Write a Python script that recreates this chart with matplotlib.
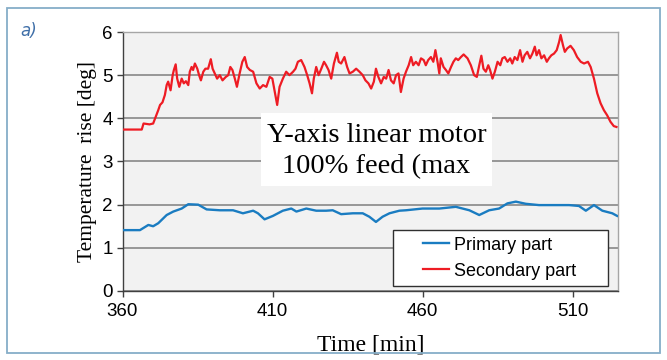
import matplotlib
matplotlib.use("Agg")
import matplotlib.pyplot as plt
from matplotlib.patches import Rectangle

# ---- data ----
secondary_t = [360, 366.4, 367.0, 369.0, 370.2, 370.8, 371.9, 372.5, 373.3, 374.1,
               374.7, 375.2, 376.0, 376.7, 377.1, 377.7, 378.2, 378.9, 379.7, 380.4,
               381.1, 381.9, 382.4, 383.0, 383.5, 384.1, 384.9, 385.5, 386.1, 386.9,
               387.6, 388.5, 389.4, 390.0, 390.7, 391.5, 392.4, 393.3, 394.4, 395.2,
               395.9, 396.6, 397.4, 398.1, 399.0, 399.9, 400.7, 401.5, 402.4, 403.5,
               404.6, 405.7, 406.8, 407.9, 409.0, 409.9, 410.7, 411.5, 412.3, 413.4,
               414.5, 415.6, 416.8, 417.6, 418.4, 419.5, 420.6, 421.5, 422.3, 423.1,
               423.7, 424.5, 425.3, 426.2, 427.1, 427.8, 428.6, 429.5, 430.4, 431.4,
               432.0, 432.8, 433.9, 434.8, 435.6, 436.7, 437.8, 438.9, 440.0, 440.9,
               441.9, 442.8, 443.7, 444.4, 445.2, 446.1, 447.0, 447.8, 448.6, 449.4,
               450.3, 451.1, 451.9, 452.7, 453.6, 454.4, 455.3, 456.1, 456.8, 457.7,
               458.6, 459.4, 460.3, 461.0, 461.8, 462.7, 463.5, 464.2, 464.9, 465.5,
               466.0, 466.9, 467.7, 468.5, 469.4, 470.2, 471.0, 471.8, 472.7, 473.6,
               474.9, 476.0, 477.1, 478.0, 478.8, 479.5, 480.2, 481.0, 481.8, 482.4,
               483.2, 484.0, 484.9, 485.8, 486.5, 487.3, 488.2, 489.1, 489.8, 490.6,
               491.5, 492.4, 493.2, 493.9, 494.8, 495.7, 496.5, 497.3, 497.9, 498.7,
               499.5, 500.4, 501.3, 502.0, 502.8, 503.7, 504.6, 505.4, 505.9, 506.7,
               507.3, 508.1, 509.2, 510.3, 511.4, 512.6, 513.7, 515.0, 515.9, 517.0,
               518.1, 519.2, 520.3, 521.4, 522.5, 523.6, 524.5]
secondary_v = [3.74, 3.74, 3.88, 3.86, 3.88, 3.99, 4.19, 4.31, 4.37, 4.54,
               4.77, 4.85, 4.65, 5.00, 5.12, 5.25, 4.92, 4.73, 4.92, 4.81,
               4.86, 4.77, 5.08, 5.19, 5.12, 5.27, 5.15, 5.00, 4.88, 5.08,
               5.15, 5.15, 5.37, 5.15, 5.04, 4.92, 5.00, 4.88, 4.96, 5.00,
               5.19, 5.12, 4.92, 4.73, 5.04, 5.31, 5.42, 5.19, 5.12, 5.08,
               4.81, 4.69, 4.77, 4.73, 4.96, 4.92, 4.61, 4.31, 4.73, 4.92,
               5.08, 5.00, 5.08, 5.15, 5.31, 5.35, 5.19, 5.00, 4.81, 4.58,
               4.92, 5.19, 5.00, 5.15, 5.31, 5.23, 5.12, 4.92, 5.27, 5.52,
               5.31, 5.27, 5.42, 5.19, 5.04, 5.08, 5.15, 5.08, 5.00, 4.88,
               4.81, 4.69, 4.85, 5.15, 4.96, 4.81, 4.96, 4.92, 5.12, 4.88,
               4.81, 5.00, 5.04, 4.61, 4.92, 5.08, 5.23, 5.42, 5.23, 5.31,
               5.23, 5.39, 5.35, 5.23, 5.35, 5.42, 5.31, 5.58, 5.31, 5.04,
               5.39, 5.19, 5.12, 5.04, 5.19, 5.31, 5.39, 5.35, 5.42, 5.48,
               5.39, 5.23, 5.00, 4.96, 5.23, 5.45, 5.15, 5.08, 5.23, 5.12,
               4.92, 5.08, 5.31, 5.23, 5.39, 5.42, 5.31, 5.39, 5.27, 5.42,
               5.35, 5.58, 5.31, 5.46, 5.54, 5.39, 5.50, 5.66, 5.46, 5.58,
               5.39, 5.46, 5.31, 5.39, 5.46, 5.50, 5.58, 5.77, 5.93, 5.69,
               5.54, 5.62, 5.68, 5.58, 5.42, 5.31, 5.27, 5.31, 5.19, 4.92,
               4.58, 4.35, 4.19, 4.07, 3.92, 3.82, 3.80]

primary_t = [360, 365.8, 368.6, 370.2, 371.9, 374.7, 376.9, 379.7, 381.9, 385.2,
             388, 392.4, 396.8, 400.1, 403.5, 405.1, 407.3, 410.1, 413.4, 416.2,
             417.9, 421.2, 424.5, 427.8, 430, 432.8, 436.7, 440, 442.2, 444.4,
             446.6, 448.9, 452.2, 454.4, 459.9, 465.5, 471, 475.5, 478.8, 482.1,
             485.4, 488.2, 491, 494.3, 498.7, 504.3, 508.7, 512, 514.3, 517,
             519.8, 523.1, 524.7]
primary_v = [1.41, 1.41, 1.53, 1.50, 1.57, 1.76, 1.84, 1.91, 2.01, 2.00,
             1.89, 1.87, 1.87, 1.80, 1.86, 1.80, 1.66, 1.74, 1.86, 1.91,
             1.84, 1.91, 1.86, 1.86, 1.87, 1.78, 1.80, 1.80, 1.72, 1.60,
             1.72, 1.80, 1.86, 1.87, 1.91, 1.91, 1.95, 1.87, 1.76, 1.87,
             1.91, 2.03, 2.07, 2.02, 1.99, 1.99, 1.99, 1.97, 1.86, 1.99,
             1.86, 1.80, 1.74]

x_ticks = [360, 410, 460, 510]
y_ticks = [0, 1, 2, 3, 4, 5, 6]
series_labels = ["Primary part", "Secondary part"]
note_text = "Y-axis linear motor\n100% feed (max"

RED = "#ee1c24"
BLUE = "#1a7cc1"

fig = plt.figure(figsize=(6.67, 3.6), dpi=100)
fig.patch.set_facecolor("white")

# outer frame
fig.patches.append(Rectangle((7 / 667, 7 / 360), 653 / 667, 345 / 360,
                             transform=fig.transFigure, fill=False,
                             edgecolor="#86aec8", linewidth=1.3))
fig.text(29 / 667, 1 - 31 / 360, "a)", fontsize=12, style="italic",
         color="#3f6fa8", family="DejaVu Sans", ha="center", va="center")

ax = fig.add_axes([0.1837, 0.1917, 0.7428, 0.7194])
ax.set_facecolor("#f2f2f2")
ax.set_xlim(360, 525)
ax.set_ylim(0, 6)
ax.set_xticks(x_ticks)
ax.set_yticks(y_ticks)
ax.yaxis.grid(True, color="#7f7f7f", linewidth=1.1, zorder=1)
ax.set_axisbelow(True)

ax.plot(primary_t, primary_v, color=BLUE, lw=1.7, zorder=3, label=series_labels[0])
ax.plot(secondary_t, secondary_v, color=RED, lw=1.6, zorder=3, label=series_labels[1])

for s in ["left", "bottom"]:
    ax.spines[s].set_color("#404040")
    ax.spines[s].set_linewidth(1.0)
for s in ["top", "right"]:
    ax.spines[s].set_color("#a6a6a6")
    ax.spines[s].set_linewidth(1.0)

ax.tick_params(axis="both", direction="out", length=4, width=1, color="#404040",
               labelsize=13.5, labelcolor="black")
ax.tick_params(axis="y", pad=3)
ax.tick_params(axis="x", pad=5)
for lab in ax.get_xticklabels() + ax.get_yticklabels():
    lab.set_family("Liberation Sans")

ax.set_xlabel("Time [min]", family="Liberation Serif", fontsize=17, labelpad=10)
ax.set_ylabel("Temperature  rise [deg]", family="Liberation Serif", fontsize=15.5,
              labelpad=4)

# note box
ax.add_patch(Rectangle((406, 2.43), 77.1, 1.69, facecolor="white",
                       edgecolor="none", zorder=2))
ax.text(444.6, 3.24, note_text, family="Liberation Serif", fontsize=20.5,
        ha="center", va="center", linespacing=1.3, zorder=4)

# legend box
ax.add_patch(Rectangle((0.546, 0.019), 0.434, 0.216, transform=ax.transAxes,
                       facecolor="white", edgecolor="#303030", linewidth=1.0,
                       zorder=5))
leg = ax.legend(loc="center left", bbox_to_anchor=(0.6065, 0.127), frameon=False,
                prop={"family": "Liberation Sans", "size": 13}, borderpad=0,
                borderaxespad=0, handlelength=1.45, handletextpad=0.25,
                labelspacing=0.5)
leg.set_zorder(6)

fig.savefig("out.png", dpi=100)
